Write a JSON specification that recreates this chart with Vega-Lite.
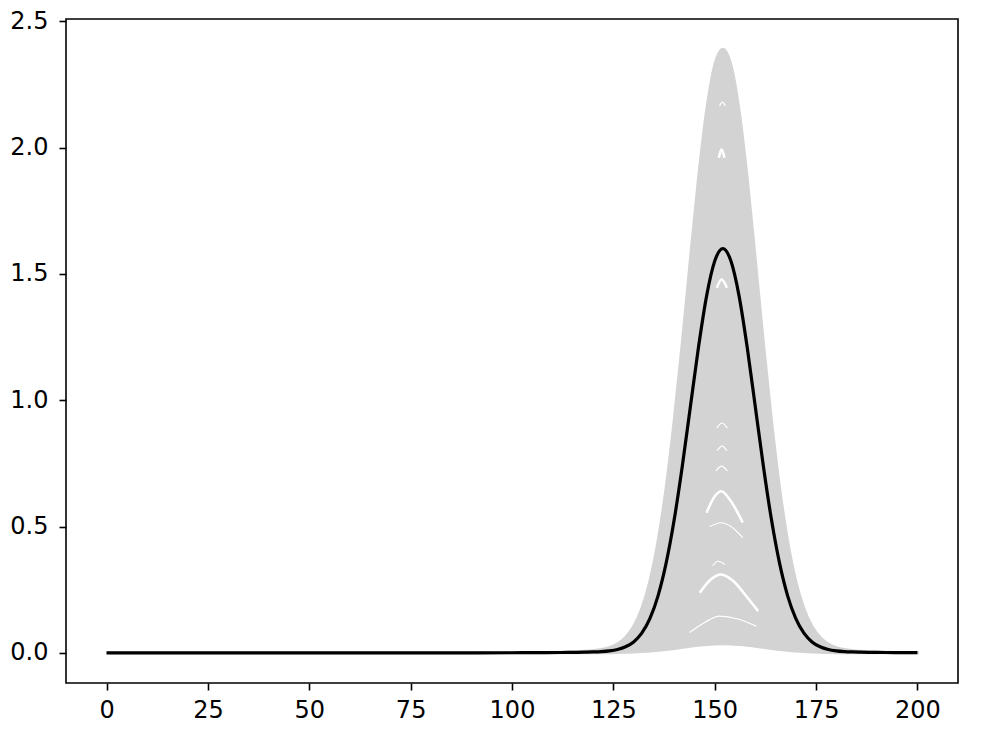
{
  "$schema": "https://vega.github.io/schema/vega-lite/v6.json",
  "width": 892,
  "height": 664,
  "autosize": {"type": "none"},
  "padding": {"left": 66, "top": 19, "right": 28, "bottom": 54},
  "background": "white",
  "config": {
    "view": {"stroke": "black", "strokeWidth": 1.6},
    "axis": {
      "domain": false,
      "grid": false,
      "tickColor": "black",
      "tickWidth": 1.6,
      "tickSize": 7,
      "labelFont": "DejaVu Sans",
      "labelFontSize": 24,
      "labelColor": "black",
      "title": null,
      "labelFlush": false,
      "labelOverlap": false
    }
  },
  "datasets": {
    "curves": [
      {"x": 0, "lo": 0, "hi": 0, "mean": 0},
      {"x": 25, "lo": 0, "hi": 0, "mean": 0},
      {"x": 50, "lo": 0, "hi": 0, "mean": 0},
      {"x": 75, "lo": 0, "hi": 0, "mean": 0},
      {"x": 100, "lo": 0, "hi": 0.0003, "mean": 0.0002},
      {"x": 104, "lo": 0, "hi": 0.0008, "mean": 0.0005},
      {"x": 108, "lo": 0, "hi": 0.0015, "mean": 0.0009},
      {"x": 112, "lo": 0, "hi": 0.0025, "mean": 0.0013},
      {"x": 114, "lo": 0.0001, "hi": 0.0033, "mean": 0.0016},
      {"x": 116, "lo": 0.0001, "hi": 0.0044, "mean": 0.002},
      {"x": 118, "lo": 0.0002, "hi": 0.006, "mean": 0.0027},
      {"x": 120, "lo": 0.0002, "hi": 0.0085, "mean": 0.0036},
      {"x": 122, "lo": 0.0004, "hi": 0.0129, "mean": 0.0051},
      {"x": 124, "lo": 0.0007, "hi": 0.0208, "mean": 0.008},
      {"x": 126, "lo": 0.0012, "hi": 0.0351, "mean": 0.0134},
      {"x": 128, "lo": 0.002, "hi": 0.0606, "mean": 0.0238},
      {"x": 130, "lo": 0.0032, "hi": 0.1041, "mean": 0.0432},
      {"x": 132, "lo": 0.0049, "hi": 0.1748, "mean": 0.0777},
      {"x": 134, "lo": 0.0071, "hi": 0.2834, "mean": 0.1352},
      {"x": 136, "lo": 0.01, "hi": 0.4401, "mean": 0.2246},
      {"x": 138, "lo": 0.0135, "hi": 0.6521, "mean": 0.3539},
      {"x": 140, "lo": 0.0175, "hi": 0.9192, "mean": 0.5266},
      {"x": 142, "lo": 0.0218, "hi": 1.226, "mean": 0.7386},
      {"x": 144, "lo": 0.0261, "hi": 1.558, "mean": 0.975},
      {"x": 146, "lo": 0.0301, "hi": 1.879, "mean": 1.2106},
      {"x": 148, "lo": 0.0332, "hi": 2.147, "mean": 1.4134},
      {"x": 150, "lo": 0.0353, "hi": 2.327, "mean": 1.5511},
      {"x": 152, "lo": 0.036, "hi": 2.39, "mean": 1.6},
      {"x": 154, "lo": 0.0353, "hi": 2.327, "mean": 1.5511},
      {"x": 156, "lo": 0.0332, "hi": 2.147, "mean": 1.4134},
      {"x": 158, "lo": 0.0301, "hi": 1.879, "mean": 1.2106},
      {"x": 160, "lo": 0.0261, "hi": 1.558, "mean": 0.975},
      {"x": 162, "lo": 0.0218, "hi": 1.226, "mean": 0.7386},
      {"x": 164, "lo": 0.0175, "hi": 0.9192, "mean": 0.5266},
      {"x": 166, "lo": 0.0135, "hi": 0.6521, "mean": 0.3539},
      {"x": 168, "lo": 0.01, "hi": 0.4401, "mean": 0.2246},
      {"x": 170, "lo": 0.0071, "hi": 0.2834, "mean": 0.1352},
      {"x": 172, "lo": 0.0049, "hi": 0.1748, "mean": 0.0777},
      {"x": 174, "lo": 0.0032, "hi": 0.1041, "mean": 0.0432},
      {"x": 176, "lo": 0.002, "hi": 0.0606, "mean": 0.0238},
      {"x": 178, "lo": 0.0012, "hi": 0.0351, "mean": 0.0134},
      {"x": 180, "lo": 0.0007, "hi": 0.0208, "mean": 0.008},
      {"x": 182, "lo": 0.0004, "hi": 0.0129, "mean": 0.0051},
      {"x": 184, "lo": 0.0002, "hi": 0.0085, "mean": 0.0036},
      {"x": 186, "lo": 0.0002, "hi": 0.006, "mean": 0.0027},
      {"x": 188, "lo": 0.0001, "hi": 0.0044, "mean": 0.002},
      {"x": 190, "lo": 0.0001, "hi": 0.0033, "mean": 0.0016},
      {"x": 192, "lo": 0, "hi": 0.0025, "mean": 0.0013},
      {"x": 196, "lo": 0, "hi": 0.0015, "mean": 0.0009},
      {"x": 200, "lo": 0, "hi": 0.0008, "mean": 0.0005}
    ],
    "gaps": [
      {"gap": "a1", "kind": "thick", "x": 146.3, "y": 0.2375},
      {"gap": "a1", "kind": "thick", "x": 149, "y": 0.29},
      {"gap": "a1", "kind": "thick", "x": 151.6, "y": 0.31},
      {"gap": "a1", "kind": "thick", "x": 154.5, "y": 0.285},
      {"gap": "a1", "kind": "thick", "x": 157.5, "y": 0.23},
      {"gap": "a1", "kind": "thick", "x": 160.7, "y": 0.165},
      {"gap": "a2", "kind": "thin", "x": 143.8, "y": 0.08},
      {"gap": "a2", "kind": "thin", "x": 147.5, "y": 0.12},
      {"gap": "a2", "kind": "thin", "x": 151.2, "y": 0.145},
      {"gap": "a2", "kind": "thin", "x": 155.5, "y": 0.135},
      {"gap": "a2", "kind": "thin", "x": 160.3, "y": 0.105},
      {"gap": "a3", "kind": "thick", "x": 148, "y": 0.555},
      {"gap": "a3", "kind": "thick", "x": 150, "y": 0.62},
      {"gap": "a3", "kind": "thick", "x": 151.6, "y": 0.64},
      {"gap": "a3", "kind": "thick", "x": 154, "y": 0.6},
      {"gap": "a3", "kind": "thick", "x": 156.9, "y": 0.516},
      {"gap": "a4", "kind": "thin", "x": 148.8, "y": 0.5},
      {"gap": "a4", "kind": "thin", "x": 151.6, "y": 0.515},
      {"gap": "a4", "kind": "thin", "x": 154, "y": 0.5},
      {"gap": "a4", "kind": "thin", "x": 156.9, "y": 0.456},
      {"gap": "a5", "kind": "thick", "x": 150.5, "y": 1.445},
      {"gap": "a5", "kind": "thick", "x": 151.7, "y": 1.478},
      {"gap": "a5", "kind": "thick", "x": 153, "y": 1.445},
      {"gap": "a6", "kind": "thick", "x": 151, "y": 1.96},
      {"gap": "a6", "kind": "thick", "x": 151.7, "y": 1.993},
      {"gap": "a6", "kind": "thick", "x": 152.4, "y": 1.96},
      {"gap": "a7", "kind": "thin", "x": 151.2, "y": 2.165},
      {"gap": "a7", "kind": "thin", "x": 151.9, "y": 2.18},
      {"gap": "a7", "kind": "thin", "x": 152.6, "y": 2.165},
      {"gap": "a8", "kind": "thin", "x": 150.5, "y": 0.89},
      {"gap": "a8", "kind": "thin", "x": 151.8, "y": 0.91},
      {"gap": "a8", "kind": "thin", "x": 153.1, "y": 0.89},
      {"gap": "a9", "kind": "thin", "x": 150.3, "y": 0.72},
      {"gap": "a9", "kind": "thin", "x": 151.7, "y": 0.739},
      {"gap": "a9", "kind": "thin", "x": 153.1, "y": 0.72},
      {"gap": "a10", "kind": "thin", "x": 150.6, "y": 0.8},
      {"gap": "a10", "kind": "thin", "x": 151.8, "y": 0.818},
      {"gap": "a10", "kind": "thin", "x": 153, "y": 0.8},
      {"gap": "a11", "kind": "thin", "x": 149.5, "y": 0.345},
      {"gap": "a11", "kind": "thin", "x": 150.8, "y": 0.3626},
      {"gap": "a11", "kind": "thin", "x": 152.5, "y": 0.35}
    ]
  },
  "layer": [
    {
      "data": {"name": "curves"},
      "mark": {"type": "area", "color": "#d3d3d3", "stroke": "#d3d3d3", "strokeWidth": 3, "interpolate": "monotone", "opacity": 1},
      "encoding": {
        "x": {
          "field": "x",
          "type": "quantitative",
          "scale": {"domain": [-10, 210], "nice": false, "zero": false},
          "axis": {"values": [0, 25, 50, 75, 100, 125, 150, 175, 200], "labelPadding": 8, "labelAngle": 0}
        },
        "y": {
          "field": "hi",
          "type": "quantitative",
          "scale": {"domain": [-0.1195, 2.5095], "nice": false, "zero": false},
          "axis": {"values": [0, 0.5, 1, 1.5, 2, 2.5], "format": ".1f", "labelPadding": 11}
        },
        "y2": {"field": "lo"}
      }
    },
    {
      "data": {"name": "gaps"},
      "mark": {"type": "line", "color": "white", "interpolate": "monotone", "strokeCap": "butt"},
      "encoding": {
        "x": {"field": "x", "type": "quantitative"},
        "y": {"field": "y", "type": "quantitative"},
        "detail": {"field": "gap", "type": "nominal"},
        "strokeWidth": {"field": "kind", "type": "nominal", "scale": {"domain": ["thick", "thin"], "range": [2.6, 1.2]}, "legend": null}
      }
    },
    {
      "data": {"name": "curves"},
      "mark": {"type": "line", "color": "black", "strokeWidth": 3.2, "interpolate": "monotone"},
      "encoding": {
        "x": {"field": "x", "type": "quantitative"},
        "y": {"field": "mean", "type": "quantitative"}
      }
    }
  ]
}
